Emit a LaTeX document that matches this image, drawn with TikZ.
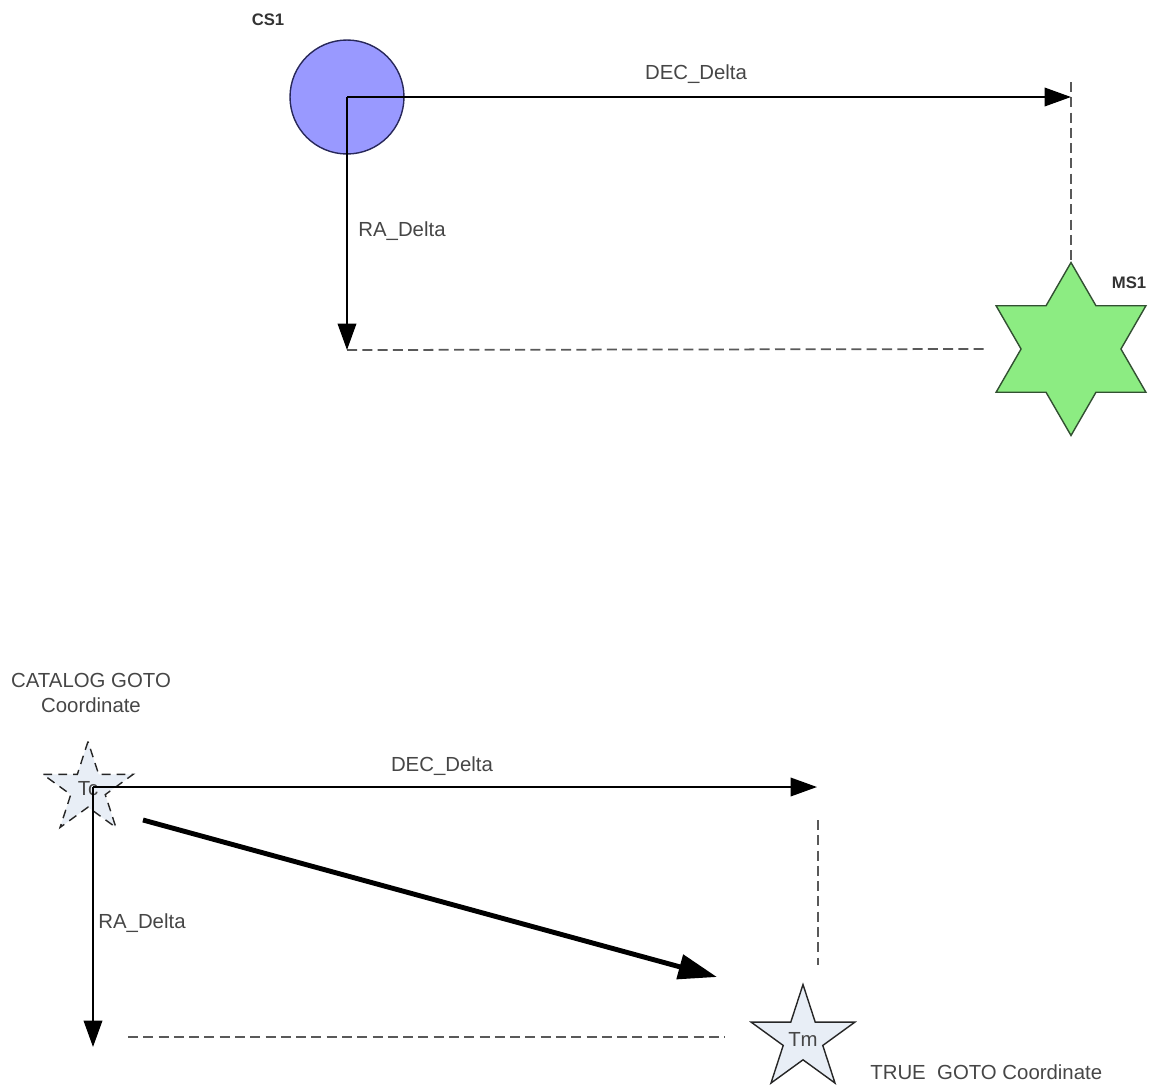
\documentclass[tikz,border=0pt]{standalone}
\usepackage{fontspec}
\setmainfont{Liberation Sans}
\usetikzlibrary{arrows.meta,shapes.geometric}
\definecolor{csblue}{RGB}{153,153,255}
\definecolor{csedge}{RGB}{40,40,90}
\definecolor{msgreen}{RGB}{140,236,130}
\definecolor{msedge}{RGB}{50,80,50}
\definecolor{tstar}{RGB}{232,238,246}
\definecolor{txt}{RGB}{70,70,70}
\begin{document}
\begin{tikzpicture}[x=0.02cm,y=-0.02cm,
  lbl/.style={font=\fontsize{11.6}{14.2}\selectfont, text=txt, inner sep=0},
  tag/.style={font=\bfseries\fontsize{9.5}{11}\selectfont, text=black!80, inner sep=0},
  arr/.style={line width=1.2pt, -{Triangle[length=15pt,width=10.5pt]}},
  bigarr/.style={line width=2.8pt, -{Triangle[length=22pt,width=14pt]}},
  dsh/.style={line width=1pt, draw=black!65, dash pattern=on 5.7pt off 3pt},
  hexstar/.style={star, star points=6, star point ratio=1.732, inner sep=0,
    fill=msgreen, draw=msedge, line width=0.8pt},
  pentstar/.style={star, star points=5, star point ratio=2.618, inner sep=0,
    fill=tstar, draw=black!85, line width=0.8pt, font=\fontsize{11.6}{14}\selectfont, text=txt},
]
\useasboundingbox (0,0) rectangle (1170,1086);

% ---------- top part ----------
\node[circle, minimum size=2.28cm, inner sep=0, fill=csblue, draw=csedge, line width=0.8pt] (cs) at (347,97) {};
\node[tag] (cslbl) at (268,20) {CS1};
\node[hexstar, minimum size=3.46cm] (ms) at (1071,349) {};
\node[tag] (mslbl) at (1129,283) {MS1};

\coordinate (d1) at (1071,97);
\coordinate (r1) at (347,350);
\coordinate (v1) at (1071,82);
\coordinate (h1) at (985,349);

\draw[dsh] (v1) -- (ms.north);
\draw[dsh] (r1) -- (h1);
\draw[arr] (cs.center) -- (d1);
\draw[arr] (cs.center) -- (r1);

\node[lbl] (dec1) at (696,74) {DEC\_Delta};
\node[lbl] (ra1) at (402,231) {RA\_Delta};

% ---------- bottom part ----------
\node[lbl, align=center] (catlbl) at (91,693) {CATALOG GOTO\\Coordinate};
\node[pentstar, dash pattern=on 5pt off 3.5pt, minimum size=1.9cm] (tc) at (88,789) {Tc};
\node[pentstar, minimum size=2.04cm] (tm) at (803,1039) {Tm};
\node[lbl, anchor=west] (truelbl) at (870,1072) {TRUE\ \ GOTO Coordinate};

\coordinate (c2) at (93,787);
\coordinate (d2) at (817,787);
\coordinate (r2) at (93,1047);
\coordinate (s3) at (143,820);
\coordinate (e3) at (717,977);
\coordinate (v2a) at (818,820);
\coordinate (v2b) at (818,965);
\coordinate (h2a) at (128,1037);
\coordinate (h2b) at (725,1037);

\draw[dsh] (v2a) -- (v2b);
\draw[dsh] (h2a) -- (h2b);
\draw[arr] (c2) -- (d2);
\draw[arr] (c2) -- (r2);
\draw[bigarr] (s3) -- (e3);

\node[lbl] (dec2) at (442,766) {DEC\_Delta};
\node[lbl] (ra2) at (142,923) {RA\_Delta};
\end{tikzpicture}
\end{document}
